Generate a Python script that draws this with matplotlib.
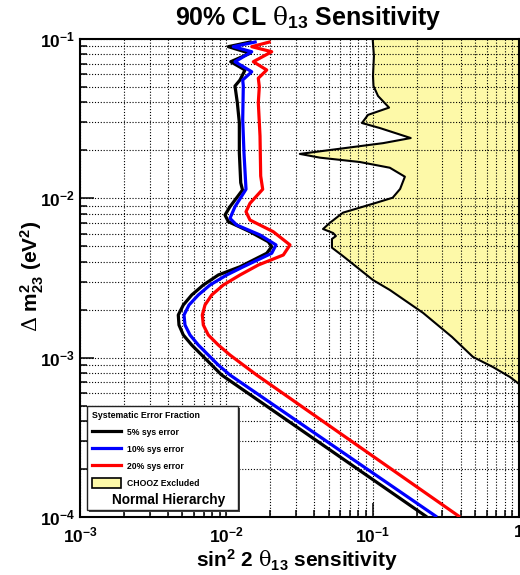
import numpy as np
import matplotlib
matplotlib.use('Agg')
import matplotlib.pyplot as plt
from matplotlib.lines import Line2D
from matplotlib.patches import Patch, Rectangle
from matplotlib.ticker import LogLocator, FixedLocator, FixedFormatter, NullFormatter

# ---------------- data ----------------
x_ticks = [1e-3, 1e-2, 1e-1, 1.0]
x_tick_labels = [r'$10^{-3}$', r'$10^{-2}$', r'$10^{-1}$', '1']
y_ticks = [1e-4, 1e-3, 1e-2, 1e-1]
y_tick_labels = [r'$10^{-4}$', r'$10^{-3}$', r'$10^{-2}$', r'$10^{-1}$']

series_labels = ['5% sys error', '10% sys error', '20% sys error']
series_colors = ['#000000', '#0000ff', '#ff0000']

# 5% systematic error
s5_sin2 = [0.01491, 0.01032, 0.01451, 0.01071, 0.01342, 0.01240, 0.01146, 0.01189,
           0.01227, 0.01227, 0.01254, 0.01290, 0.01059, 0.00979, 0.01032, 0.01451,
           0.01935, 0.02042, 0.01888, 0.01240, 0.008812, 0.006962, 0.005800, 0.005082,
           0.004695, 0.004747, 0.005082, 0.005800, 0.006788, 0.007944, 0.009298, 0.235]
s5_dm2 = [0.0962, 0.0895, 0.0813, 0.0720, 0.0639, 0.0553, 0.0507, 0.0398,
          0.0298, 0.0193, 0.01253, 0.01128, 0.00886, 0.00786, 0.00714, 0.00617,
          0.00534, 0.00497, 0.00452, 0.00372, 0.003303, 0.002858, 0.002474, 0.002141,
          0.001853, 0.001603, 0.001388, 0.001201, 0.001039, 0.000899, 0.000778, 0.0001]

# 10% systematic error
s10_sin2 = [0.01613, 0.01116, 0.01491, 0.01146, 0.01491, 0.01294, 0.01306, 0.01294,
            0.01320, 0.01363, 0.01146, 0.01059, 0.01177, 0.01699, 0.02185, 0.02042,
            0.01306, 0.010058, 0.007735, 0.006434, 0.005559, 0.005138, 0.005219, 0.005646,
            0.006434, 0.007529, 0.008812, 0.010595, 0.275]
s10_dm2 = [0.0962, 0.0895, 0.0832, 0.0720, 0.0623, 0.0553, 0.0507, 0.0313,
           0.0193, 0.01140, 0.00886, 0.00749, 0.00680, 0.00589, 0.00510, 0.00452,
           0.00372, 0.003303, 0.002858, 0.002474, 0.002141, 0.001853, 0.001603, 0.001388,
           0.001201, 0.001039, 0.000899, 0.000778, 0.0001]

# 20% systematic error
s20_sin2 = [0.02010, 0.01491, 0.02042, 0.01529, 0.01888, 0.01654, 0.01680, 0.01654,
            0.01699, 0.01717, 0.01772, 0.01451, 0.01363, 0.01451, 0.02094, 0.02723,
            0.02452, 0.01654, 0.01240, 0.009535, 0.007944, 0.007149, 0.006853, 0.006962,
            0.007529, 0.008812, 0.010595, 0.01306, 0.01613, 0.395]
s20_dm2 = [0.0962, 0.0895, 0.0832, 0.0720, 0.0639, 0.0567, 0.0502, 0.0398,
           0.0246, 0.01381, 0.01140, 0.00931, 0.00824, 0.00731, 0.00617, 0.00510,
           0.00441, 0.003816, 0.003303, 0.002858, 0.002474, 0.002141, 0.001853, 0.001603,
           0.001388, 0.001201, 0.001039, 0.000899, 0.000778, 0.0001]

# CHOOZ exclusion contour
chooz_sin2 = [0.100, 0.102, 0.1005, 0.1013, 0.1088, 0.1294, 0.0929, 0.0845, 0.1122,
              0.182, 0.1178, 0.0318, 0.0436, 0.0818, 0.131, 0.166, 0.154, 0.137,
              0.1066, 0.0627, 0.0511, 0.0458, 0.0536, 0.0561, 0.0527, 0.0527, 0.0627,
              0.1005, 0.131, 0.221, 0.348, 0.485, 0.664, 0.868, 1.0]
chooz_dm2 = [0.1, 0.0782, 0.0586, 0.0507, 0.0439, 0.0371, 0.0334, 0.0297, 0.0276,
             0.0239, 0.0222, 0.0190, 0.0180, 0.0169, 0.01556, 0.01367, 0.01145, 0.01009,
             0.0094, 0.00813, 0.00703, 0.00642, 0.00606, 0.00580, 0.00556, 0.00490, 0.00434,
             0.00307, 0.00266, 0.00191, 0.00135, 0.00101, 0.000873, 0.000756, 0.000684]
chooz_label = 'CHOOZ Excluded'
legend_title = 'Systematic Error Fraction'
note_text = 'Normal Hierarchy'

# ---------------- style ----------------
plt.rcParams['font.family'] = ['Liberation Sans', 'DejaVu Sans']
plt.rcParams['font.weight'] = 'bold'
plt.rcParams['mathtext.fontset'] = 'custom'
plt.rcParams['mathtext.rm'] = 'Liberation Sans:weight=bold'
plt.rcParams['mathtext.bf'] = 'Liberation Sans:weight=bold'
plt.rcParams['mathtext.it'] = 'DejaVu Serif:weight=normal'
plt.rcParams['mathtext.sf'] = 'DejaVu Serif:weight=normal'

YELLOW = '#fdf9a8'

fig = plt.figure(figsize=(5.2, 5.75), dpi=100)
W, H = 520.0, 575.0
ax = fig.add_axes([80 / W, 1 - 517 / H, 439 / W, 478 / H])
ax.set_xscale('log')
ax.set_yscale('log')
ax.set_xlim(1e-3, 1.0)
ax.set_ylim(1e-4, 1e-1)

# CHOOZ excluded region
ax.fill_betweenx(chooz_dm2, chooz_sin2, 1.0, color=YELLOW, lw=0, zorder=1)
ax.plot(chooz_sin2, chooz_dm2, color='black', lw=1.5, zorder=2)

# sensitivity curves
for xs, ys, c in zip([s5_sin2, s10_sin2, s20_sin2], [s5_dm2, s10_dm2, s20_dm2], series_colors):
    ax.plot(xs, ys, color=c, lw=2.3, zorder=3, solid_joinstyle='round', solid_capstyle='butt')

# ticks
ax.xaxis.set_major_locator(FixedLocator(x_ticks))
ax.xaxis.set_major_formatter(FixedFormatter(x_tick_labels))
ax.yaxis.set_major_locator(FixedLocator(y_ticks))
ax.yaxis.set_major_formatter(FixedFormatter(y_tick_labels))
for axis in (ax.xaxis, ax.yaxis):
    axis.set_minor_locator(LogLocator(base=10, subs=np.arange(2, 10), numticks=20))
    axis.set_minor_formatter(NullFormatter())
ax.tick_params(which='both', direction='in', top=False, right=False, width=1.1, color='black')
ax.tick_params(which='major', length=10, labelsize=12.5)
ax.tick_params(which='minor', length=5)
ax.tick_params(axis='x', which='major', pad=6)
ax.tick_params(axis='y', which='major', pad=3.5)

for sp in ax.spines.values():
    sp.set_linewidth(1.5)

ax.grid(True, which='both', color='black', linestyle=(0, (1, 1.6)), linewidth=0.8)

# legend
handles = [Line2D([], [], color=c, lw=2.3) for c in series_colors]
handles.append(Patch(facecolor=YELLOW, edgecolor='black', lw=1.2))
leg = ax.legend(handles, series_labels + [chooz_label], loc='upper left',
                bbox_to_anchor=((88.3 - 80) / 439, (517 - 407.5) / 478),
                frameon=False, prop={'size': 6.2, 'weight': 'bold'},
                title=legend_title, title_fontproperties={'size': 6.3, 'weight': 'bold'},
                alignment='left', handlelength=3.4, handleheight=1.44,
                handletextpad=0.66, labelspacing=0.8, borderpad=0.4, borderaxespad=0)
leg.set_zorder(6)

bx0, by0 = (87.3 - 80) / 439, (517 - 510) / 478
bw, bh = 151 / 439, 104 / 478
ax.add_patch(Rectangle((bx0 + 2 / 439, by0 - 2 / 478), bw, bh, transform=ax.transAxes,
                       facecolor='#444444', edgecolor='none', zorder=4, clip_on=False))
ax.add_patch(Rectangle((bx0, by0), bw, bh, transform=ax.transAxes,
                       facecolor='white', edgecolor='#222222', lw=1.0, zorder=4.5, clip_on=False))
ax.text((168.5 - 80) / 439, (517 - 500) / 478, note_text, transform=ax.transAxes,
        ha='center', va='center', fontsize=9.8, fontweight='bold', zorder=7)

# titles
fig.text(308 / W, 1 - 25 / H, r'90% CL $\mathsf{\theta}_{13}$ Sensitivity', ha='center', va='baseline',
         fontsize=18, fontweight='bold')
fig.text(297 / W, 1 - 567 / H, r'sin$^{2}$ 2 $\mathsf{\theta}_{13}$ sensitivity', ha='center',
         va='baseline', fontsize=15, fontweight='bold')
fig.text(32 / W, 1 - 276 / H, r'$\mathsf{\Delta}$ m$^{2}_{23}$ (eV$^{2}$)', ha='center', va='center',
         rotation=90, fontsize=15, fontweight='bold')

fig.savefig('out.png', dpi=100)
